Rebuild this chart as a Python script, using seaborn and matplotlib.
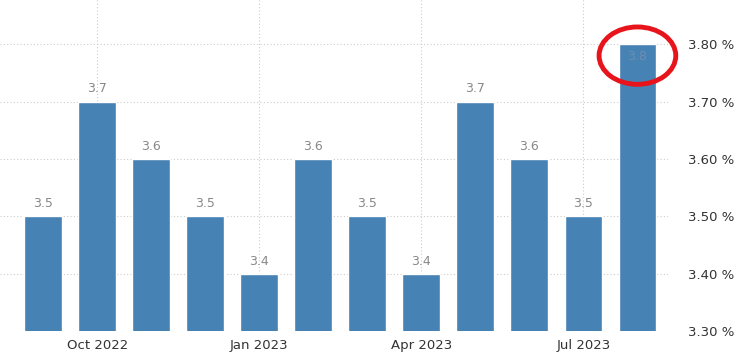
import matplotlib
matplotlib.use("Agg")
import matplotlib.pyplot as plt
from matplotlib.patches import Ellipse
import seaborn as sns
import pandas as pd

months = ["Sep 2022", "Oct 2022", "Nov 2022", "Dec 2022", "Jan 2023", "Feb 2023",
          "Mar 2023", "Apr 2023", "May 2023", "Jun 2023", "Jul 2023", "Aug 2023"]
rate = [3.5, 3.7, 3.6, 3.5, 3.4, 3.6, 3.5, 3.4, 3.7, 3.6, 3.5, 3.8]
tick_months = ["Oct 2022", "Jan 2023", "Apr 2023", "Jul 2023"]
y_ticks = [3.3, 3.4, 3.5, 3.6, 3.7, 3.8]

df = pd.DataFrame({"month": months, "rate": rate})

sns.set_style("white")
plt.rcParams['font.family'] = ['DejaVu Sans']

fig = plt.figure(figsize=(7.4, 3.58), dpi=100)
ax = fig.add_axes([0.0, 0.0754, 0.903, 0.9246])

sns.barplot(data=df, x="month", y="rate", color="#4682b4", saturation=1,
            width=0.7, ax=ax, zorder=3)

ax.set_ylim(3.3, 3.877)
ax.set_xlim(-0.8, 11.57)

# value labels
for i, v in enumerate(rate):
    if v >= 3.8:
        ax.text(i, v - 0.022, f"{v:.1f}", ha="center", va="center",
                fontsize=9, color="#6c8fb0", zorder=4)
    else:
        ax.text(i, v + 0.022, f"{v:.1f}", ha="center", va="center",
                fontsize=9, color="#888888", zorder=4)

# axes styling
for s in ax.spines.values():
    s.set_visible(False)
ax.yaxis.tick_right()
ax.set_yticks(y_ticks)
ax.set_yticklabels([f"{t:.2f} %" for t in y_ticks], fontsize=9.5, color="#333333")
ax.tick_params(axis="y", length=0, pad=14)

pos = [months.index(m) for m in tick_months]
ax.set_xticks(pos)
ax.set_xticklabels(tick_months, fontsize=9.5, color="#333333")
ax.tick_params(axis="x", length=3, color="#bbbbbb", pad=3)
ax.set_xlabel("")
ax.set_ylabel("")

ax.grid(True, axis="both", linestyle=(0, (1, 2)), color="#cccccc", linewidth=0.8, zorder=0)
ax.set_axisbelow(True)

# red circle highlight
ell = Ellipse((11, 3.8 - 0.02), width=1.42, height=0.1, fill=False,
              edgecolor="#e8141c", linewidth=3.5, zorder=5, clip_on=False)
ax.add_patch(ell)

fig.savefig("out.png", dpi=100)
